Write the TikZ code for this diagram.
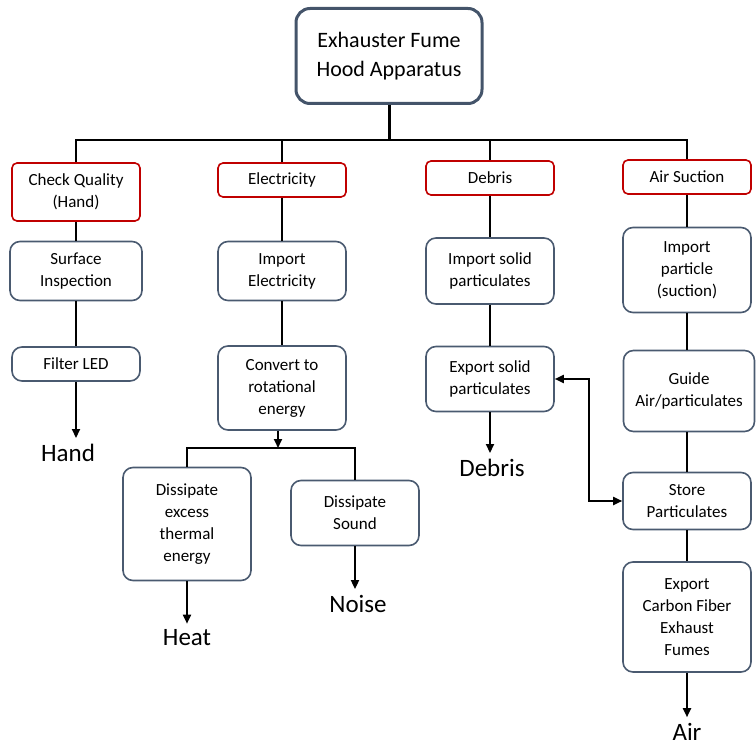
\documentclass[tikz,border=0pt]{standalone}
\usepackage{fontspec}
\setmainfont{Carlito}
\usetikzlibrary{arrows.meta}
\definecolor{slate}{HTML}{44546A}
\definecolor{boxline}{HTML}{4A5A70}
\definecolor{catred}{HTML}{C00000}
\tikzstyle{apparatus} = [rectangle, draw=slate, line width=3pt, rounded corners=14pt, align=center, minimum width=186pt, minimum height=95pt, font=\fontsize{22}{29}\selectfont]
\tikzstyle{category} = [rectangle, draw=catred, line width=1.6pt, rounded corners=5pt, align=center, minimum width=128pt, inner sep=2pt, font=\fontsize{17}{22}\selectfont]
\tikzstyle{process} = [rectangle, draw=boxline, line width=1.6pt, rounded corners=10pt, align=center, minimum width=128pt, inner sep=2pt, font=\fontsize{17}{22}\selectfont]
\tikzstyle{output} = [inner sep=6pt, font=\fontsize{25}{28}\selectfont]
\tikzstyle{link} = [line width=1.8pt]
\tikzstyle{connector} = [line width=1.8pt, -{Triangle[length=9pt,width=8pt]}]
\tikzstyle{twoway} = [line width=1.8pt, {Triangle[length=9pt,width=8pt]}-{Triangle[length=9pt,width=8pt]}]

\begin{document}
\begin{tikzpicture}[x=1pt, y=-1pt, node distance=20pt]
            \useasboundingbox (0,0) rectangle (756,749);
            \node (hood) [apparatus] at (389,56) {Exhauster Fume\\Hood Apparatus};
            \coordinate (bus) at (389,140);
            % check quality branch
            \node (checkq) [category, minimum height=58pt] at (76,192) {Check Quality\\(Hand)};
            \node (surface) [process, minimum height=59pt, minimum width=132pt, below of = checkq, yshift = -59pt] {Surface\\Inspection};
            \node (filter) [process, minimum height=34pt, below of = surface, yshift = -73pt] {Filter LED};
            \node (hand) [output, below of = filter, yshift = -69pt, xshift = -8pt] {Hand};
            % electricity branch
            \node (elec) [category, minimum height=34pt] at (282,180) {Electricity};
            \node (importel) [process, minimum height=59pt, below of = elec, yshift = -71pt] {Import\\Electricity};
            \node (convert) [process, minimum height=84pt, below of = importel, yshift = -97pt] {Convert to\\rotational\\energy};
            \coordinate (split) at (278,448);
            \node (thermal) [process, minimum height=113pt] at (187,524) {Dissipate\\excess\\thermal\\energy};
            \node (sound) [process, minimum height=65pt] at (355,513) {Dissipate\\Sound};
            \node (heat) [output, below of = thermal, yshift = -94pt] {Heat};
            \node (noise) [output, below of = sound, yshift = -71pt, xshift = 3pt] {Noise};
            % debris branch
            \node (debris) [category, minimum height=34pt] at (490,178) {Debris};
            \node (importsolid) [process, minimum height=66pt, below of = debris, yshift = -73pt] {Import solid\\particulates};
            \node (exportsolid) [process, minimum height=65pt, below of = importsolid, yshift = -88pt] {Export solid\\particulates};
            \node (debrisout) [output, below of = exportsolid, yshift = -69pt, xshift = 2pt] {Debris};
            % air suction branch
            \node (suction) [category, minimum height=34pt] at (687,177) {Air Suction};
            \node (importpart) [process, minimum height=85pt, below of = suction, yshift = -73pt] {Import\\particle\\(suction)};
            \node (guide) [process, minimum height=81pt, minimum width=131pt, below of = importpart, yshift = -101pt, xshift = 2pt] {Guide\\Air/particulates};
            \node (store) [process, minimum height=57pt, below of = guide, yshift = -90pt, xshift = -2pt] {Store\\Particulates};
            \node (exportcf) [process, minimum height=110pt, below of = store, yshift = -96pt] {Export\\Carbon Fiber\\Exhaust\\Fumes};
            \node (air) [output, below of = exportcf, yshift = -95pt] {Air};
            \coordinate (jog) at (589,440);
            % tree lines
            \draw [line width=3pt] (hood) -- (bus);
            \draw [link] (checkq.north) |- (bus) -| (suction.north);
            \draw [link] (elec.north) |- (bus);
            \draw [link] (debris.north) |- (bus);
            \draw [link] (checkq) -- (surface);
            \draw [link] (surface) -- (filter);
            \draw [connector] (filter.south) -- (filter.south |- hand.north);
            \draw [link] (elec) -- (importel);
            \draw [link] (importel) -- (convert);
            \draw [connector] (convert.south -| split) -- (split);
            \draw [link] (thermal.north) |- (split) -| (sound.north);
            \draw [connector] (thermal) -- (heat);
            \draw [connector] (sound.south) -- (sound.south |- noise.north);
            \draw [link] (debris) -- (importsolid);
            \draw [link] (importsolid) -- (exportsolid);
            \draw [connector] (exportsolid) -- (exportsolid |- debrisout.north);
            \draw [link] (suction) -- (importpart);
            \draw [link] (importpart) -- (importpart |- guide.north);
            \draw [link] (store |- guide.south) -- (store);
            \draw [link] (store) -- (exportcf);
            \draw [connector] (exportcf) -- (air);
            \draw [twoway] (exportsolid.east) -| (jog) |- (store.west);
\end{tikzpicture}
\end{document}
